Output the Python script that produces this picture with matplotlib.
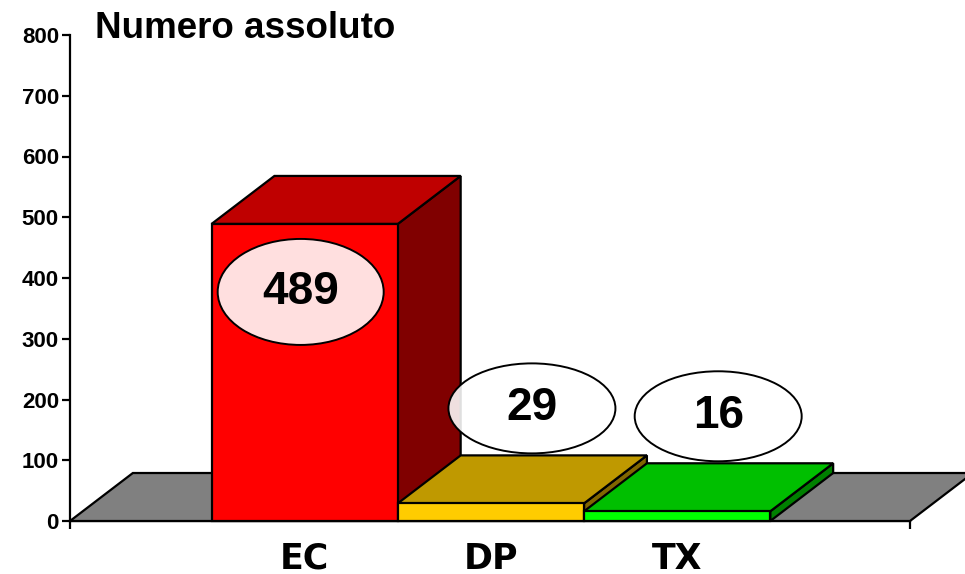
import matplotlib.pyplot as plt
from matplotlib.patches import Polygon, Ellipse
from matplotlib.transforms import ScaledTranslation

categories = ['EC', 'DP', 'TX']
values = [489, 29, 16]
front_colors = ['#FF0000', '#FFCC00', '#00FF00']
top_colors = ['#BF0000', '#BF9900', '#00BF00']
side_colors = ['#800000', '#806600', '#008000']
y_ticks = list(range(0, 801, 100))
title = 'Numero assoluto'

plt.rcParams['font.family'] = ['Liberation Sans', 'DejaVu Sans']
plt.rcParams['font.weight'] = 'bold'

fig = plt.figure(figsize=(9.65, 5.74), dpi=100)
ax = fig.add_axes([70 / 965, 53 / 574, 840 / 965, 486 / 574])
x_min, x_max = -1.26, 3.25
ax.set_xlim(x_min, x_max)
ax.set_ylim(0, 800)

dx, dy = 0.3375, 79   # finta profondita' 3D in unita' dati
w = 1.0


def face(pts, color, z):
    ax.add_patch(Polygon(pts, closed=True, facecolor=color, edgecolor='black',
                         linewidth=1.6, joinstyle='miter', zorder=z, clip_on=False))


# pavimento grigio
face([(x_min, 0), (x_max, 0), (x_max + dx, dy), (x_min + dx, dy)], '#808080', 1)

# barre 3D
for i, v in enumerate(values):
    x0, x1 = i - w / 2, i + w / 2
    z = 2 + i
    face([(x1, 0), (x1 + dx, dy), (x1 + dx, v + dy), (x1, v)], side_colors[i], z)
    face([(x0, v), (x1, v), (x1 + dx, v + dy), (x0 + dx, v + dy)], top_colors[i], z)
    face([(x0, 0), (x1, 0), (x1, v), (x0, v)], front_colors[i], z)

# etichette ovali
for i, v in enumerate(values):
    if v > 100:
        ox, oy, ew, eh = -4, -68, 166, 106
    else:
        ox, oy, ew, eh = 41, 95, 167, 90
    tr = fig.dpi_scale_trans + ScaledTranslation(i, v, ax.transData)
    ax.add_patch(Ellipse((ox / 100, oy / 100), ew / 100, eh / 100, transform=tr,
                         facecolor=(1, 1, 1, 0.88), edgecolor='black',
                         linewidth=1.4, zorder=10, clip_on=False))
    ax.annotate(str(v), (i, v), xytext=(ox * 0.72, oy * 0.72), textcoords='offset points',
                ha='center', va='center', fontsize=33, fontweight='bold', zorder=11)

# assi
for s in ['top', 'right']:
    ax.spines[s].set_visible(False)
for s in ['left', 'bottom']:
    ax.spines[s].set_linewidth(1.6)
    ax.spines[s].set_zorder(0.5)

ax.set_yticks(y_ticks)
ax.tick_params(axis='y', length=6, width=1.6, pad=2, labelsize=16)
ax.set_xticks(range(len(categories)), categories)
ax.set_xticks([x_min, x_max], minor=True)
ax.tick_params(axis='x', which='major', length=0, pad=15, labelsize=25)
ax.tick_params(axis='x', which='minor', length=6, width=1.6)
for lab in ax.get_xticklabels():
    lab.set_fontfamily('DejaVu Sans')
    lab.set_fontweight('bold')

fig.text(95 / 965, 1 - 38 / 574, title, fontsize=26.5, fontweight='bold', va='baseline')

fig.savefig('out.png', dpi=100)
